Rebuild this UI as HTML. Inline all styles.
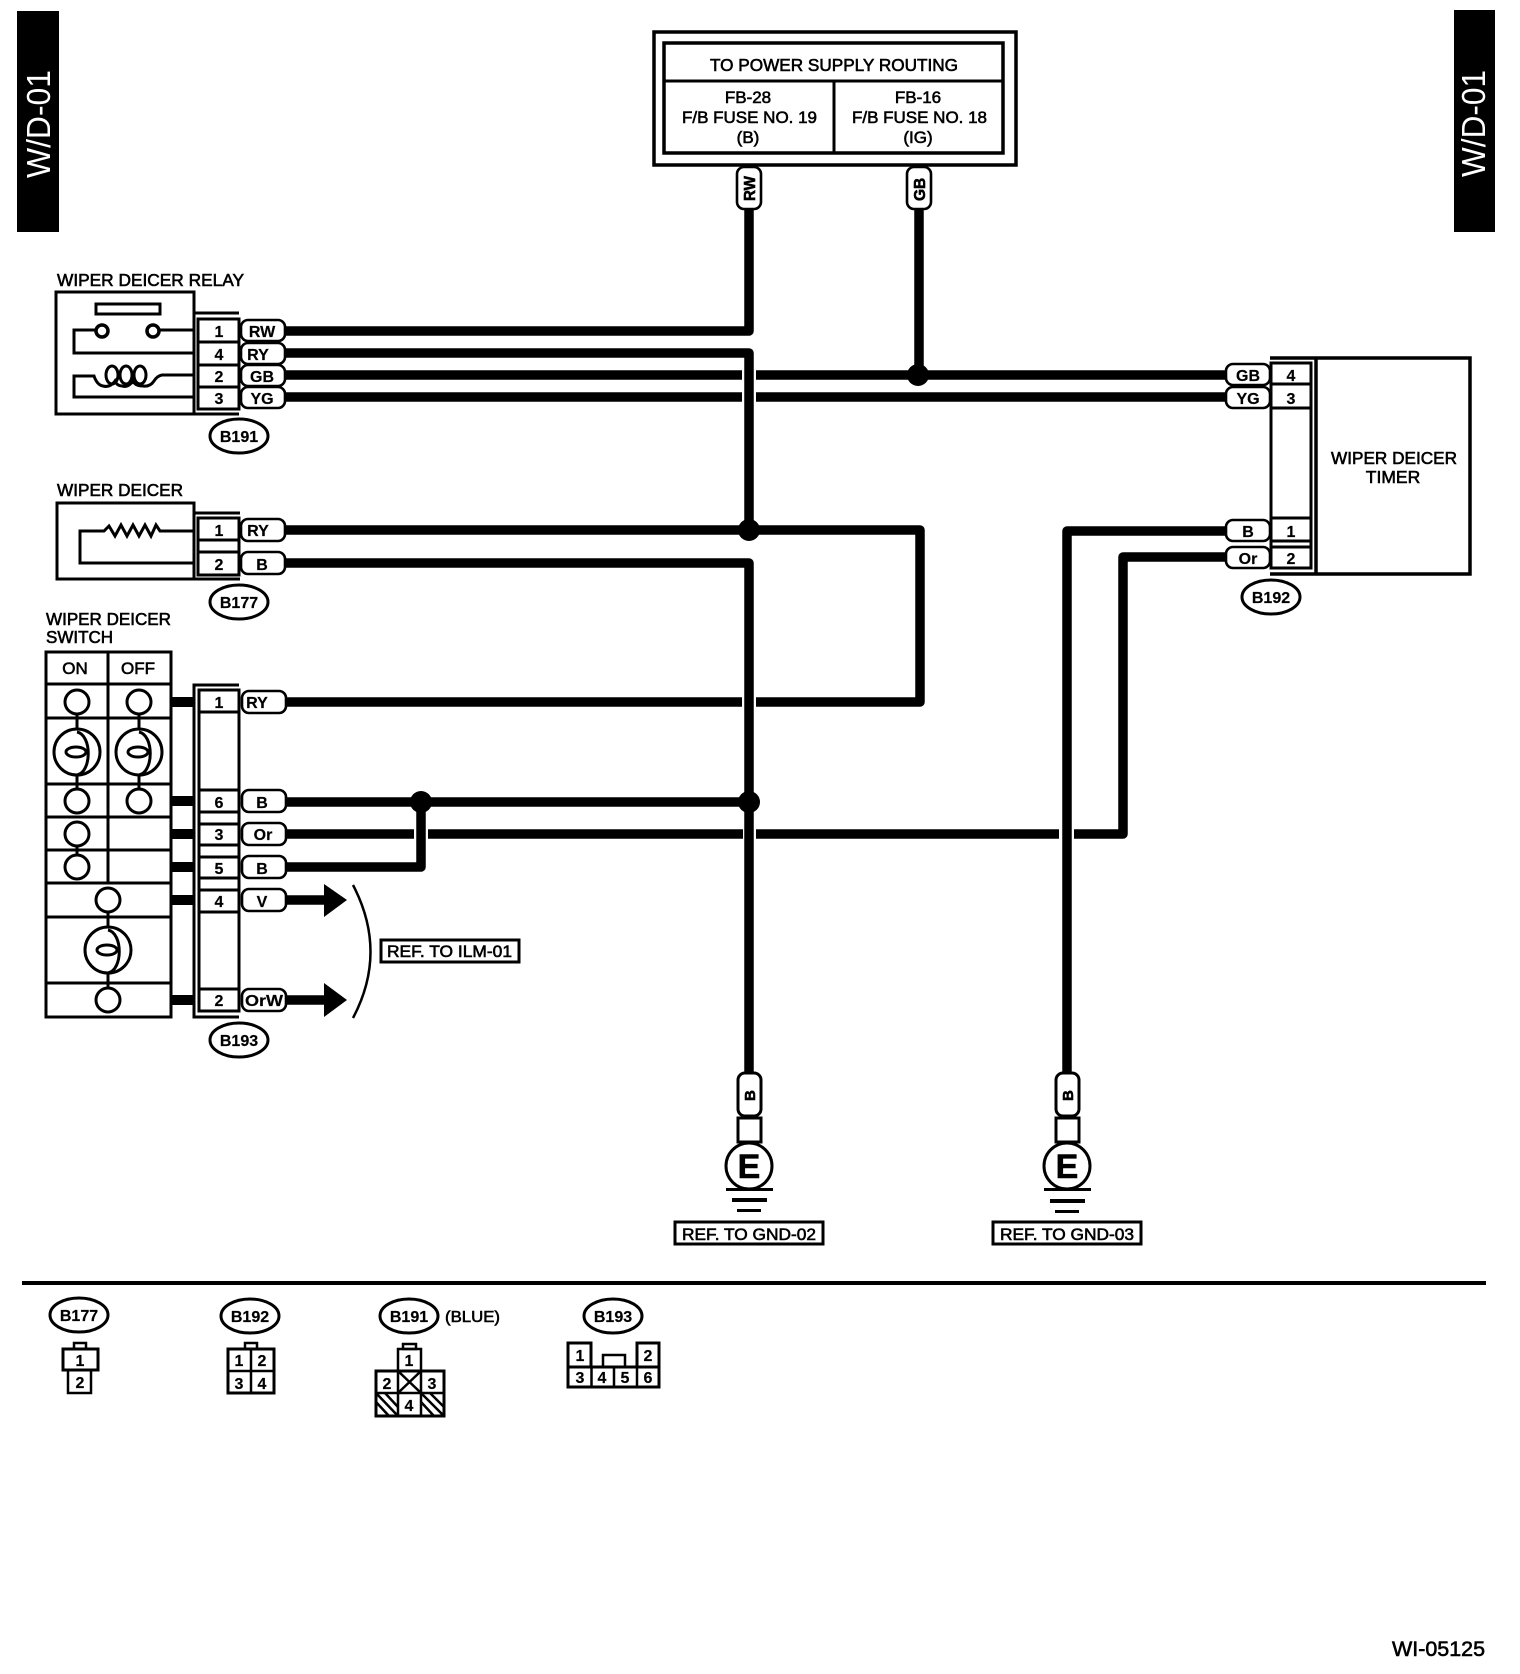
<!DOCTYPE html>
<html><head><meta charset="utf-8"><style>
html,body{margin:0;padding:0;background:#fff}
svg{display:block}
text{font-family:"Liberation Sans",sans-serif;fill:#000;stroke:#000;stroke-width:.6}
.c{text-anchor:middle}
.l{fill:none;stroke:#000;stroke-width:3}
.t{fill:none;stroke:#000;stroke-width:2.5}
.p{fill:#fff;stroke:#000;stroke-width:2.6}
.w{fill:none;stroke:#000;stroke-width:9.5;stroke-linejoin:round}
.n{font-size:16px;font-weight:bold;stroke-width:.2}
.o{fill:#fff;stroke:#000;stroke-width:3}
.s{fill:#fff;stroke:#000;stroke-width:3}
</style></head><body>
<svg width="1520" height="1674" viewBox="0 0 1520 1674" xmlns="http://www.w3.org/2000/svg">
<rect width="1520" height="1674" fill="#fff"/>

<!-- side tabs -->
<rect x="17" y="11" width="42" height="221" fill="#000"/>
<rect x="1454" y="10" width="41" height="222" fill="#000"/>
<text transform="translate(50,178) rotate(-90)" font-size="33" textLength="108" lengthAdjust="spacingAndGlyphs" style="fill:#fff;stroke:none">W/D-01</text>
<text transform="translate(1485,177) rotate(-90)" font-size="33" textLength="107" lengthAdjust="spacingAndGlyphs" style="fill:#fff;stroke:none">W/D-01</text>

<!-- wires -->
<path class="w" d="M285,331H749V205"/>
<path class="w" d="M919,205V375"/>
<path class="w" d="M285,353H749V530"/>
<path class="w" d="M285,375H742M756,375H1228"/>
<path class="w" d="M285,397H742M756,397H1228"/>
<path class="w" d="M285,530H920V702H756M742,702H285"/>
<path class="w" d="M285,563H749V1075"/>
<path class="w" d="M285,802H749"/>
<path class="w" d="M285,834H414M428,834H743M756,834H1059M1074,834H1123V557H1228"/>
<path class="w" d="M285,867H421V802"/>
<path class="w" d="M1228,531H1067V1075"/>
<path class="w" d="M285,900H326M285,1000H326"/>
<circle cx="918" cy="375" r="11"/>
<circle cx="749" cy="530" r="11"/>
<circle cx="749" cy="802" r="11"/>
<circle cx="421" cy="802" r="11"/>
<path d="M324,884L347,900L324,917Z"/>
<path d="M324,983L347,1000L324,1017Z"/>
<path class="t" d="M353,885Q388,952 353,1018"/>

<!-- power box -->
<rect x="654" y="32" width="362" height="133" class="l" style="stroke-width:3.5"/>
<rect x="664" y="43" width="339" height="110" class="l" style="stroke-width:3.5"/>
<path class="l" d="M664,81H1003M834,81V153"/>
<text x="710" y="71" font-size="17.5" textLength="248" lengthAdjust="spacingAndGlyphs">TO POWER SUPPLY ROUTING</text>
<text x="748" y="103" class="c" font-size="17">FB-28</text>
<text x="682" y="123" font-size="17" textLength="135" lengthAdjust="spacingAndGlyphs">F/B FUSE NO. 19</text>
<text x="748" y="143" class="c" font-size="17">(B)</text>
<text x="918" y="103" class="c" font-size="17">FB-16</text>
<text x="852" y="123" font-size="17" textLength="135" lengthAdjust="spacingAndGlyphs">F/B FUSE NO. 18</text>
<text x="918" y="143" class="c" font-size="17">(IG)</text>

<rect class="p" x="737" y="167" width="24" height="42" rx="7"/>
<text transform="translate(755,201) rotate(-90)" font-size="15.5" font-weight="bold" textLength="25" lengthAdjust="spacingAndGlyphs">RW</text>
<rect class="p" x="907" y="167" width="24" height="42" rx="7"/>
<text transform="translate(925,201) rotate(-90)" font-size="15.5" font-weight="bold">GB</text>

<!-- relay -->
<text x="57" y="286" font-size="17.5" textLength="187" lengthAdjust="spacingAndGlyphs">WIPER DEICER RELAY</text>
<rect x="56" y="292" width="138" height="122" class="l"/>
<rect x="96" y="304" width="64" height="10" class="l"/>
<path class="l" d="M97,330H74V353H194M158,330H194"/>
<circle cx="102" cy="331" r="6" class="l" style="stroke-width:3.5;fill:#fff"/>
<circle cx="153" cy="331" r="6" class="l" style="stroke-width:3.5;fill:#fff"/>
<path class="l" d="M194,375H162Q157,376 154,381Q150,387 143,386Q135,386 133,381Q128,388 122,386Q117,386 115,381Q110,388 103,386Q97,385 94,376H74V397H194"/>
<ellipse cx="112" cy="375" rx="6" ry="9" class="l"/>
<ellipse cx="126" cy="375" rx="6" ry="9" class="l"/>
<ellipse cx="140" cy="375" rx="6" ry="9" class="l"/>
<path class="l" d="M194,313H239M194,414H239"/>
<rect x="198" y="319" width="41" height="90" class="l"/>
<path class="l" d="M198,342H239M198,365H239M198,387H239"/>
<text x="219" y="337" class="c n">1</text><text x="219" y="360" class="c n">4</text><text x="219" y="382" class="c n">2</text><text x="219" y="404" class="c n">3</text>
<rect class="p" x="241" y="320" width="44" height="21" rx="7"/><text x="262" y="337" class="c n">RW</text>
<rect class="p" x="241" y="343" width="44" height="21" rx="7"/><text x="258" y="360" class="c n">RY</text>
<rect class="p" x="241" y="365" width="44" height="21" rx="7"/><text x="262" y="382" class="c n">GB</text>
<rect class="p" x="241" y="387" width="44" height="21" rx="7"/><text x="262" y="404" class="c n">YG</text>
<ellipse class="o" cx="239" cy="436" rx="29" ry="17"/><text x="239" y="442" class="c n">B191</text>

<!-- deicer -->
<text x="57" y="496" font-size="17.5" textLength="126" lengthAdjust="spacingAndGlyphs">WIPER DEICER</text>
<rect x="57" y="503" width="137" height="76" class="l"/>
<path class="l" d="M194,531H160L156,525L151,536L145,525L139,536L133,525L127,536L121,525L115,536L109,526L104,531H80V563H194"/>
<path class="l" d="M194,513H240M194,579H240"/>
<path class="l" d="M198,518H239V575H198ZM198,540H239M198,552H239"/>
<text x="219" y="536" class="c n">1</text><text x="219" y="570" class="c n">2</text>
<rect class="p" x="241" y="519" width="44" height="22" rx="7"/><text x="258" y="536" class="c n">RY</text>
<rect class="p" x="241" y="552" width="44" height="22" rx="7"/><text x="262" y="570" class="c n">B</text>
<ellipse class="o" cx="239" cy="602" rx="29" ry="17"/><text x="239" y="608" class="c n">B177</text>

<!-- switch -->
<text x="46" y="625" font-size="17.5" textLength="125" lengthAdjust="spacingAndGlyphs">WIPER DEICER</text>
<text x="46" y="643" font-size="17.5" textLength="67" lengthAdjust="spacingAndGlyphs">SWITCH</text>
<rect x="46" y="652" width="125" height="365" class="l"/>
<path class="l" d="M46,684H171M46,718H171M46,784H171M46,817H171M46,850H171M46,883H171M46,917H171M46,983H171M108,652V883"/>
<text x="75" y="674" class="c" font-size="17">ON</text><text x="138" y="674" class="c" font-size="17">OFF</text>
<path class="l" d="M77,714V730M77,774V790M139,714V730M139,774V790M77,846V855M108,912V928M108,972V988"/>
<circle cx="77" cy="702" r="12" class="s"/><circle cx="139" cy="702" r="12" class="s"/>
<circle cx="77" cy="752" r="23" class="l"/><circle cx="139" cy="752" r="23" class="l"/>
<path class="l" d="M77,732C92,735 92,772 77,775M139,732C154,735 154,772 139,775"/>
<ellipse cx="76" cy="752" rx="10" ry="5" class="l"/><ellipse cx="138" cy="752" rx="10" ry="5" class="l"/>
<circle cx="77" cy="801" r="12" class="s"/><circle cx="139" cy="801" r="12" class="s"/>
<circle cx="77" cy="834" r="12" class="s"/><circle cx="77" cy="867" r="12" class="s"/>
<circle cx="108" cy="900" r="12" class="s"/>
<circle cx="108" cy="950" r="23" class="l"/>
<path class="l" d="M108,930C123,933 123,970 108,973"/>
<ellipse cx="107" cy="950" rx="10" ry="5" class="l"/>
<circle cx="108" cy="1000" r="12" class="s"/>
<path d="M171,697h23v10h-23zM171,796h23v10h-23zM171,829h23v10h-23zM171,862h23v10h-23zM171,895h23v10h-23zM171,995h23v10h-23z"/>
<path class="l" d="M239,685H194V1017H239"/>
<path class="l" d="M199,690H239V1011H199Z"/>
<path class="l" d="M199,712H239M199,790H239M199,812H239M199,824H239M199,845H239M199,857H239M199,878H239M199,890H239M199,912H239M199,989H239"/>
<text x="219" y="708" class="c n">1</text><text x="219" y="808" class="c n">6</text><text x="219" y="840" class="c n">3</text><text x="219" y="874" class="c n">5</text><text x="219" y="907" class="c n">4</text><text x="219" y="1006" class="c n">2</text>
<rect class="p" x="242" y="691" width="44" height="22" rx="7"/><text x="257" y="708" class="c n">RY</text>
<rect class="p" x="242" y="790" width="44" height="22" rx="7"/><text x="262" y="808" class="c n">B</text>
<rect class="p" x="242" y="823" width="44" height="22" rx="7"/><text x="263" y="840" class="c n">Or</text>
<rect class="p" x="242" y="856" width="44" height="22" rx="7"/><text x="262" y="874" class="c n">B</text>
<rect class="p" x="242" y="889" width="44" height="22" rx="7"/><text x="262" y="907" class="c n">V</text>
<rect class="p" x="242" y="989" width="44" height="22" rx="7"/><text x="264" y="1006" class="c n" textLength="38" lengthAdjust="spacingAndGlyphs">OrW</text>
<ellipse class="o" cx="239" cy="1040" rx="29" ry="17"/><text x="239" y="1046" class="c n">B193</text>
<rect x="381" y="940" width="138" height="22" class="l"/>
<text x="387" y="957" font-size="17" textLength="125" lengthAdjust="spacingAndGlyphs">REF. TO ILM-01</text>

<!-- timer -->
<path class="l" d="M1270,358H1470V574H1270M1316,358V574" style="stroke-width:3.5"/>
<path class="l" d="M1271,363H1311V568H1271Z"/>
<path class="l" d="M1271,384H1311M1271,408H1311M1271,518H1311M1271,541H1311M1271,547H1311"/>
<text x="1291" y="381" class="c n">4</text><text x="1291" y="404" class="c n">3</text><text x="1291" y="537" class="c n">1</text><text x="1291" y="564" class="c n">2</text>
<rect class="p" x="1226" y="364" width="44" height="21" rx="7"/><text x="1248" y="381" class="c n">GB</text>
<rect class="p" x="1226" y="387" width="44" height="21" rx="7"/><text x="1248" y="404" class="c n">YG</text>
<rect class="p" x="1226" y="520" width="44" height="21" rx="7"/><text x="1248" y="537" class="c n">B</text>
<rect class="p" x="1226" y="547" width="44" height="21" rx="7"/><text x="1248" y="564" class="c n">Or</text>
<text x="1331" y="464" font-size="17.5" textLength="126" lengthAdjust="spacingAndGlyphs">WIPER DEICER</text>
<text x="1393" y="483" class="c" font-size="17.5">TIMER</text>
<ellipse class="o" cx="1271" cy="597" rx="29" ry="17"/><text x="1271" y="603" class="c n">B192</text>

<!-- grounds -->
<g>
<rect class="p" x="738" y="1073" width="23" height="43" rx="7" style="stroke-width:3"/>
<text transform="translate(755,1101) rotate(-90)" font-size="15" font-weight="bold">B</text>
<rect x="738" y="1118" width="23" height="24" class="l"/>
<circle cx="749" cy="1166" r="23" class="l"/>
<text x="749" y="1178" class="c" font-size="34" font-weight="bold">E</text>
<path d="M726,1188h47v3h-47zM732,1198h35v4h-35zM737,1209h24v3h-24z"/>
<rect x="675" y="1222" width="148" height="22" class="l"/>
<text x="682" y="1240" font-size="17" textLength="134" lengthAdjust="spacingAndGlyphs">REF. TO GND-02</text>
</g>
<g>
<rect class="p" x="1056" y="1073" width="23" height="43" rx="7" style="stroke-width:3"/>
<text transform="translate(1073,1101) rotate(-90)" font-size="15" font-weight="bold">B</text>
<rect x="1056" y="1118" width="23" height="24" class="l"/>
<circle cx="1067" cy="1166" r="23" class="l"/>
<text x="1067" y="1178" class="c" font-size="34" font-weight="bold">E</text>
<path d="M1044,1188h47v3h-47zM1050,1199h35v4h-35zM1055,1210h24v3h-24z"/>
<rect x="993" y="1222" width="148" height="22" class="l"/>
<text x="1000" y="1240" font-size="17" textLength="134" lengthAdjust="spacingAndGlyphs">REF. TO GND-03</text>
</g>

<!-- separator -->
<rect x="22" y="1281" width="1464" height="4" fill="#000"/>

<!-- legend -->
<ellipse class="o" cx="79" cy="1315" rx="29" ry="17"/><text x="79" y="1321" class="c n">B177</text>
<ellipse class="o" cx="250" cy="1316" rx="29" ry="17"/><text x="250" y="1322" class="c n">B192</text>
<ellipse class="o" cx="409" cy="1316" rx="29" ry="17"/><text x="409" y="1322" class="c n">B191</text>
<text x="445" y="1322" font-size="16" textLength="55" lengthAdjust="spacingAndGlyphs">(BLUE)</text>
<ellipse class="o" cx="613" cy="1316" rx="29" ry="17"/><text x="613" y="1322" class="c n">B193</text>

<g class="t">
<rect x="74" y="1343" width="12" height="6" class="t"/>
<rect x="63" y="1349" width="35" height="21" class="l"/>
<rect x="68" y="1370" width="23" height="23" class="t"/>
<rect x="245" y="1343" width="12" height="6" class="t"/>
<rect x="228" y="1349" width="46" height="44" class="l"/>
<path class="t" d="M251,1349V1393M228,1371H274"/>
<rect x="403" y="1344" width="13" height="5" class="t"/>
<rect x="398" y="1349" width="23" height="22" class="t"/>
<rect x="376" y="1371" width="68" height="45" class="l"/>
<path class="t" d="M398,1371V1416M421,1371V1416M376,1393H444M398,1371L421,1393M421,1371L398,1393"/>
<path d="M376,1393L398,1416M376,1402L389,1416M385,1393L398,1407M421,1393L444,1416M421,1402L434,1416M430,1393L444,1407" style="stroke-width:2.5"/>
<path class="l" d="M568,1367V1343H591V1367M637,1367V1343H659V1367"/>
<rect x="568" y="1367" width="91" height="20" class="l"/>
<path class="t" d="M591.5,1367V1387M614,1367V1387M637,1367V1387M603,1367V1355H625V1367"/>
</g>
<text x="80" y="1366" class="c n">1</text><text x="80" y="1388" class="c n">2</text>
<text x="239" y="1366" class="c n">1</text><text x="262" y="1366" class="c n">2</text><text x="239" y="1389" class="c n">3</text><text x="262" y="1389" class="c n">4</text>
<text x="409" y="1366" class="c n">1</text><text x="387" y="1389" class="c n">2</text><text x="432" y="1389" class="c n">3</text><text x="409" y="1411" class="c n">4</text>
<text x="580" y="1361" class="c n">1</text><text x="648" y="1361" class="c n">2</text>
<text x="580" y="1383" class="c n">3</text><text x="602" y="1383" class="c n">4</text><text x="625" y="1383" class="c n">5</text><text x="648" y="1383" class="c n">6</text>

<text x="1392" y="1656" font-size="21" textLength="93" lengthAdjust="spacingAndGlyphs">WI-05125</text>
</svg>
</body></html>
